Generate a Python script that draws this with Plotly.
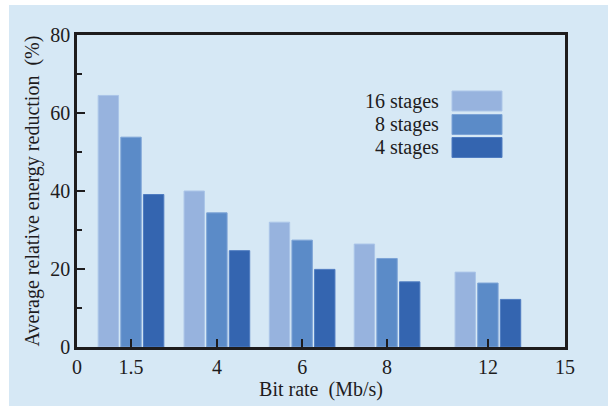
import plotly.graph_objects as go

# ---- data ----
bit_rates = ["1.5", "4", "6", "8", "12"]
series_names = ["16 stages", "8 stages", "4 stages"]
stages16 = [64.5, 40.0, 32.0, 26.4, 19.2]
stages8 = [53.8, 34.4, 27.4, 22.7, 16.4]
stages4 = [39.1, 24.7, 19.9, 16.7, 12.2]
series_values = [stages16, stages8, stages4]

# axis layout (where each bit-rate group sits on the drawn axis, 0..15)
group_pos = [1.66, 4.30, 6.92, 9.53, 12.63]
end_ticks = ["0", "15"]

# ---- styles ----
fills = ["#97b3de", "#5b8bc8", "#3465b0"]
edges = ["#abc5e8", "#7ca3d6", "#4f7cc1"]
bg = "#d6e8f5"
ink = "#1e1c1d"
font_family = "Liberation Serif, Times New Roman, serif"
FS = 20
W, H = 608, 406
ML, MR, MT, MB = 77, 43, 35, 59
PW, PH = W - ML - MR, H - MT - MB


def px_x(x):
    return (x - ML) / PW


def px_y(y):
    return (H - MB - y) / PH


fig = go.Figure()
for name, vals, fc, ec in zip(series_names, series_values, fills, edges):
    fig.add_trace(go.Bar(
        x=group_pos, y=vals, name=name,
        marker=dict(color=fc, line=dict(color=ec, width=1)),
        showlegend=False, hoverinfo="skip",
    ))

shapes = []
annotations = []
# white strips around the blue panel
shapes.append(dict(type="rect", xref="paper", yref="paper", layer="above",
                   x0=px_x(-5), x1=px_x(9), y0=px_y(H + 5), y1=px_y(-5),
                   fillcolor="white", line=dict(width=0)))
shapes.append(dict(type="rect", xref="paper", yref="paper", layer="above",
                   x0=px_x(-5), x1=px_x(W + 5), y0=px_y(5), y1=px_y(-5),
                   fillcolor="white", line=dict(width=0)))

# custom legend: text on the left, swatch on the right
row_top = [91, 114.5, 137.5]
for i, (name, fc, ec) in enumerate(zip(series_names, fills, edges)):
    y0, y1 = row_top[i], row_top[i] + 20
    shapes.append(dict(type="rect", xref="paper", yref="paper",
                       x0=px_x(452), x1=px_x(502), y0=px_y(y1), y1=px_y(y0),
                       fillcolor=fc, line=dict(color=ec, width=1)))
    annotations.append(dict(xref="paper", yref="paper", x=px_x(441),
                            y=px_y((y0 + y1) / 2), text=name, showarrow=False,
                            xanchor="right", yanchor="middle",
                            font=dict(family=font_family, size=FS, color=ink)))

fig.update_layout(
    width=W, height=H,
    margin=dict(l=ML, r=MR, t=MT, b=MB, pad=0),
    paper_bgcolor=bg, plot_bgcolor=bg,
    barmode="group", bargap=0.2, bargroupgap=0.1,
    font=dict(family=font_family, size=FS, color=ink),
    shapes=shapes, annotations=annotations,
    xaxis=dict(
        range=[0, 15], showgrid=False, zeroline=False,
        showline=True, linecolor=ink, linewidth=2.5, mirror=True,
        ticks="inside", ticklen=8, tickwidth=2, tickcolor=ink,
        tickvals=[0] + group_pos + [15],
        ticktext=[end_ticks[0]] + bit_rates + [end_ticks[1]],
        tickfont=dict(family=font_family, size=FS, color=ink),
        title=dict(text="Bit rate\u00a0 (Mb/s)", standoff=0,
                   font=dict(family=font_family, size=FS, color=ink)),
        automargin=False,
    ),
    yaxis=dict(
        range=[0, 80], showgrid=False, zeroline=False,
        showline=True, linecolor=ink, linewidth=2.5, mirror=True,
        ticks="inside", ticklen=8, tickwidth=2, tickcolor=ink,
        dtick=20, tick0=0,
        minor=dict(dtick=10, tick0=0, ticks="inside", ticklen=5,
                   tickwidth=2, tickcolor=ink, showgrid=False),
        tickfont=dict(family=font_family, size=FS, color=ink),
        title=dict(text="Average relative energy reduction\u00a0 (%)",
                   standoff=6,
                   font=dict(family=font_family, size=FS, color=ink)),
        automargin=False,
    ),
)

fig.write_html("out.html",
               config={"displayModeBar": False},
               post_script="document.body.style.margin='0';"
                           "document.body.style.overflow='hidden';")
